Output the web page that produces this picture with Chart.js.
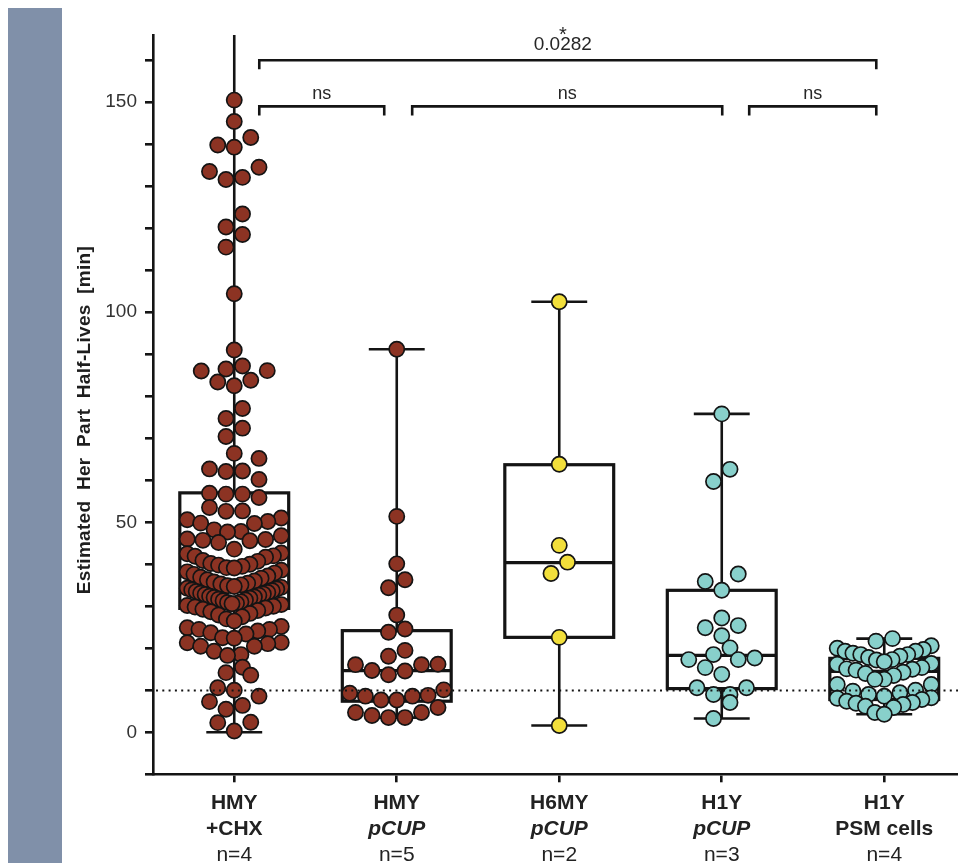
<!DOCTYPE html>
<html>
<head>
<meta charset="utf-8">
<script src="https://cdn.jsdelivr.net/npm/chart.js@4/dist/chart.umd.min.js"></script>
<style>
  html, body { margin: 0; padding: 0; background: #fff; overflow: hidden; }
  #wrap { position: relative; width: 958px; height: 863px; }
  #band { position: absolute; left: 8px; top: 8px; width: 54px; height: 855px; background: #8090a9; }
  canvas { position: absolute; left: 0; top: 0; }
</style>
</head>
<body>
<div id="wrap">
  <div id="band"></div>
  <canvas id="c" width="958" height="863"></canvas>
</div>
<script>
// ---- categories and labels ----
const strains = ['HMY', 'HMY', 'H6MY', 'H1Y', 'H1Y'];
const conditions = ['+CHX', 'pCUP', 'pCUP', 'pCUP', 'PSM cells'];
const conditionItalic = [false, true, true, true, false];
const replicates = ['n=4', 'n=5', 'n=2', 'n=3', 'n=4'];

// ---- estimated half-lives [min], one value per cell ----
const hmyChx = [
  150.5, 145.4, 141.6, 139.8, 139.3, 134.5, 133.5, 132.1, 131.6, 123.4, 120.3, 118.5, 115.5, 104.4,
  91.0, 87.2, 86.5, 86.1, 86.0, 83.8, 83.4, 82.5, 77.1, 74.7, 72.4, 70.4, 66.4, 65.2, 62.7, 62.2, 62.1, 60.2,
  56.9, 56.7, 56.7, 55.9, 53.5,
  52.7, 52.6, 51.0, 50.6, 50.2, 49.8, 49.7,
  48.2, 47.8, 47.7, 46.8, 46.0, 45.9, 45.7, 45.6, 45.2,
  43.6, 42.7, 42.5, 42.0, 41.9, 41.7, 40.9,
  40.7, 40.2, 40.0, 39.8, 39.5, 39.2, 39.1, 38.6,
  38.2, 37.9, 37.6, 37.2, 36.9, 36.7, 36.3, 36.0, 35.8,
  35.5, 35.3, 35.1, 34.9, 34.7, 34.5, 34.3, 34.1, 33.9, 33.7, 33.5, 33.3, 33.1, 32.9, 32.8,
  32.6, 32.4, 32.2, 32.1, 31.9, 31.7, 31.5, 31.3, 31.1, 30.9, 30.7, 30.6, 30.4, 30.2, 30.0,
  29.8, 29.6, 29.3, 29.0, 28.7, 28.3, 27.9, 27.5, 27.0, 26.5,
  25.2, 24.9, 24.5, 24.5, 24.1, 23.7, 23.4, 22.5, 22.4,
  21.4, 21.3, 21.1, 20.5, 20.5, 19.3, 18.5, 18.3,
  15.5, 14.2, 13.6, 10.6, 10.0, 8.6, 7.3, 6.4, 5.5, 2.4, 2.3, 0.3
];
const hmyPcup = [
  91.2, 51.4, 40.1, 36.3, 34.4, 27.9, 24.6, 23.8, 19.5, 18.1, 16.2, 16.1, 16.1, 14.7, 14.6, 13.7,
  10.1, 9.3, 8.8, 8.6, 8.6, 7.7, 7.7, 5.9, 4.7, 4.7, 4.0, 3.5, 3.5
];
const h6myPcup = [102.5, 63.8, 44.5, 40.5, 37.8, 22.6, 1.6];
const h1yPcup = [
  75.8, 62.6, 59.7, 37.7, 35.9, 33.8, 27.2, 25.4, 24.9, 23.0, 20.1, 18.5, 17.7, 17.3, 17.3, 15.4,
  13.8, 10.6, 10.6, 9.0, 9.0, 7.1, 3.3
];
const h1yPsm = [
  22.3, 21.7, 20.6, 20.0, 19.7, 19.3, 19.3, 18.8, 18.5, 18.5, 18.1, 17.8, 17.3, 17.2, 16.8, 16.4, 16.2,
  15.4, 15.1, 15.0, 14.8, 14.3, 14.0, 13.5, 12.6, 12.6, 11.4, 11.4, 10.0, 9.8, 9.4, 9.0, 8.6, 8.2, 8.1,
  7.8, 7.4, 7.1, 6.9, 6.6, 6.2, 5.9, 4.7, 4.3
];

// ---- box-and-whisker summaries (min, quartiles, median, max) ----
const boxMin    = [0.0, 3.5, 1.6, 3.3, 4.3];
const boxQ1     = [29.5, 7.4, 22.6, 10.4, 7.8];
const boxMedian = [35.0, 14.7, 40.4, 18.3, 14.5];
const boxQ3     = [57.0, 24.2, 63.7, 33.8, 17.6];
const boxMax    = [172.0, 91.2, 102.5, 75.8, 22.3];

// ---- reference threshold and pairwise comparisons ----
const thresholdValue = 10;
const comparisonLabels = ['ns', 'ns', 'ns', '0.0282'];
const comparisonStars  = ['', '', '', '*'];
const comparisonLevels = [149, 149, 149, 160];

const groupValues = [hmyChx, hmyPcup, h6myPcup, h1yPcup, h1yPsm];
const fillColors = ['#8c3323', '#8c3323', '#f2df3b', '#88d0cb', '#88d0cb'];

// styling / geometry (pixels unless noted)
const STYLE = {
  ink: '#141414',
  boxHalfWidth: 0.335,        // category units
  capHalfWidth: 0.172,        // category units
  pointRadius: 7.6,
  pointBorder: 1.7,
  rowHeightPx: 16.5,
  swarmHalfPx: 47,
  bracketDrop: 9,
  // bracket end positions, category units
  bracketSpans: [[0.154, 0.923], [1.095, 3.003], [3.169, 3.951], [0.154, 3.951]],
  font: '"Liberation Sans", Arial, sans-serif'
};

// Row-based scatter layout: values within one symbol height share a row,
// spread symmetrically, lowest values nearest the centre.
function swarmOffsets(values, pxPerUnit, rowPx, maxHalf) {
  const order = values.map((v, i) => i).sort((a, b) => values[a] - values[b]);
  const out = new Array(values.length).fill(0);
  const span = rowPx / pxPerUnit;
  let k = 0;
  while (k < order.length) {
    const start = values[order[k]];
    const row = [];
    while (k < order.length && values[order[k]] - start < span) { row.push(order[k]); k++; }
    const n = row.length;
    const step = n > 1 ? Math.min(rowPx, 2 * maxHalf / (n - 1)) : 0;
    const slots = [];
    for (let s = 0; s < n; s++) slots.push((s - (n - 1) / 2) * step);
    slots.sort((a, b) => Math.abs(a) - Math.abs(b) || a - b);
    row.forEach((id, j) => { out[id] = slots[j]; });
  }
  return out;
}

const boxPlugin = {
  id: 'boxes',
  beforeDatasetsDraw(chart) {
    const { ctx, chartArea: a, scales: { x, y } } = chart;
    ctx.save();
    ctx.beginPath();
    ctx.rect(a.left, a.top, a.right - a.left, a.bottom - a.top);
    ctx.clip();
    ctx.strokeStyle = STYLE.ink;
    ctx.lineCap = 'butt';
    for (let i = 0; i < strains.length; i++) {
      const cx = x.getPixelForValue(i);
      const l = x.getPixelForValue(i - STYLE.boxHalfWidth);
      const r = x.getPixelForValue(i + STYLE.boxHalfWidth);
      const cl = x.getPixelForValue(i - STYLE.capHalfWidth);
      const cr = x.getPixelForValue(i + STYLE.capHalfWidth);
      const yMin = y.getPixelForValue(boxMin[i]);
      const yQ1 = y.getPixelForValue(boxQ1[i]);
      const yMed = y.getPixelForValue(boxMedian[i]);
      const yQ3 = y.getPixelForValue(boxQ3[i]);
      const yMax = y.getPixelForValue(boxMax[i]);
      // whiskers
      ctx.lineWidth = 2.6;
      ctx.beginPath();
      ctx.moveTo(cx, yQ3); ctx.lineTo(cx, yMax);
      ctx.moveTo(cx, yQ1); ctx.lineTo(cx, yMin);
      ctx.moveTo(cl, yMax); ctx.lineTo(cr, yMax);
      ctx.moveTo(cl, yMin); ctx.lineTo(cr, yMin);
      ctx.stroke();
      // box
      ctx.lineWidth = 3.2;
      ctx.strokeRect(l, yQ3, r - l, yQ1 - yQ3);
      ctx.beginPath();
      ctx.moveTo(l, yMed); ctx.lineTo(r, yMed);
      ctx.stroke();
    }
    ctx.restore();
  },
  afterDatasetsDraw(chart) {
    const { ctx, chartArea: a, scales: { y } } = chart;
    const yy = Math.round(y.getPixelForValue(thresholdValue)) + 0.5;
    ctx.save();
    ctx.strokeStyle = STYLE.ink;
    ctx.lineWidth = 2;
    ctx.setLineDash([2, 4.3]);
    ctx.beginPath();
    ctx.moveTo(a.left + 3, yy);
    ctx.lineTo(a.right, yy);
    ctx.stroke();
    ctx.restore();
  },
  afterDraw(chart) {
    const { ctx, chartArea: a, scales: { x, y } } = chart;
    ctx.save();
    // comparison brackets
    ctx.strokeStyle = STYLE.ink;
    ctx.fillStyle = '#262626';
    ctx.lineWidth = 2.6;
    ctx.textAlign = 'center';
    ctx.textBaseline = 'middle';
    for (let k = 0; k < comparisonLabels.length; k++) {
      const [s, e] = STYLE.bracketSpans[k];
      const x0 = x.getPixelForValue(s), x1 = x.getPixelForValue(e);
      const yl = y.getPixelForValue(comparisonLevels[k]);
      ctx.beginPath();
      ctx.moveTo(x0, yl + STYLE.bracketDrop);
      ctx.lineTo(x0, yl);
      ctx.lineTo(x1, yl);
      ctx.lineTo(x1, yl + STYLE.bracketDrop);
      ctx.stroke();
      const mid = (x0 + x1) / 2;
      if (comparisonStars[k]) {
        ctx.font = '19px ' + STYLE.font;
        ctx.fillText(comparisonLabels[k], mid - 5, yl - 15);
        ctx.font = '20px ' + STYLE.font;
        ctx.fillText(comparisonStars[k], mid - 5, yl - 25);
      } else {
        ctx.font = '18px ' + STYLE.font;
        ctx.fillText(comparisonLabels[k], mid, yl - 12);
      }
    }
    // category labels, three lines each
    ctx.fillStyle = '#222';
    for (let i = 0; i < strains.length; i++) {
      const cx = x.getPixelForValue(i);
      ctx.font = 'bold 21px ' + STYLE.font;
      ctx.fillText(strains[i], cx, a.bottom + 29);
      ctx.font = (conditionItalic[i] ? 'italic bold 21px ' : 'bold 21px ') + STYLE.font;
      ctx.fillText(conditions[i], cx, a.bottom + 55);
      ctx.font = '21px ' + STYLE.font;
      ctx.fillText(replicates[i], cx, a.bottom + 81);
    }
    // y-axis title
    ctx.translate(85, 420);
    ctx.rotate(-Math.PI / 2);
    ctx.font = 'bold 19px ' + STYLE.font;
    if ('wordSpacing' in ctx) ctx.wordSpacing = '5px';
    if ('letterSpacing' in ctx) ctx.letterSpacing = '0.3px';
    ctx.fillStyle = '#1e1e1e';
    ctx.fillText('Estimated Her Part Half-Lives [min]', 0, 0);
    ctx.restore();
  }
};

const datasets = groupValues.map((vals, i) => ({
  data: vals.map(v => ({ x: i, y: v })),
  backgroundColor: fillColors[i],
  borderColor: STYLE.ink,
  borderWidth: STYLE.pointBorder,
  pointRadius: STYLE.pointRadius,
  pointHoverRadius: STYLE.pointRadius
}));

const chart = new Chart(document.getElementById('c'), {
  type: 'scatter',
  data: { datasets },
  plugins: [boxPlugin],
  options: {
    responsive: false,
    animation: false,
    events: [],
    layout: { autoPadding: false, padding: { left: 74, top: 35, right: 0, bottom: 0 } },
    plugins: { legend: { display: false }, tooltip: { enabled: false } },
    scales: {
      x: {
        type: 'linear',
        min: -0.5,
        max: -0.5 + (958 - 153) / 162.5,
        afterBuildTicks: s => { s.ticks = [0, 1, 2, 3, 4].map(v => ({ value: v })); },
        afterFit: s => { s.height = 863 - 35 - 739.3; },
        ticks: { display: false },
        grid: { display: true, drawOnChartArea: false, drawTicks: true, tickLength: 8, color: STYLE.ink, lineWidth: 2.6 },
        border: { display: true, color: STYLE.ink, width: 2.6 }
      },
      y: {
        min: -10,
        max: 166,
        afterBuildTicks: s => {
          const t = [];
          for (let v = -10; v <= 160; v += 10) t.push({ value: v });
          s.ticks = t;
        },
        afterFit: s => { s.width = 153 - 74; },
        ticks: {
          padding: 8,
          color: '#333',
          font: { family: 'Liberation Sans', size: 19 },
          callback: v => (v % 50 === 0 ? String(v) : '')
        },
        grid: { display: true, drawOnChartArea: false, drawTicks: true, tickLength: 8, color: STYLE.ink, lineWidth: 2.6 },
        border: { display: true, color: STYLE.ink, width: 2.6 }
      }
    }
  }
});

// spread the points of each group horizontally using the scales' pixel sizes
(function layoutSwarm() {
  const { x, y } = chart.scales;
  const pxPerY = Math.abs(y.getPixelForValue(0) - y.getPixelForValue(1));
  const pxPerX = Math.abs(x.getPixelForValue(1) - x.getPixelForValue(0));
  groupValues.forEach((vals, i) => {
    const off = swarmOffsets(vals, pxPerY, STYLE.rowHeightPx, STYLE.swarmHalfPx);
    chart.data.datasets[i].data = vals.map((v, j) => ({ x: i + off[j] / pxPerX, y: v }));
  });
  chart.update('none');
})();
</script>
</body>
</html>
